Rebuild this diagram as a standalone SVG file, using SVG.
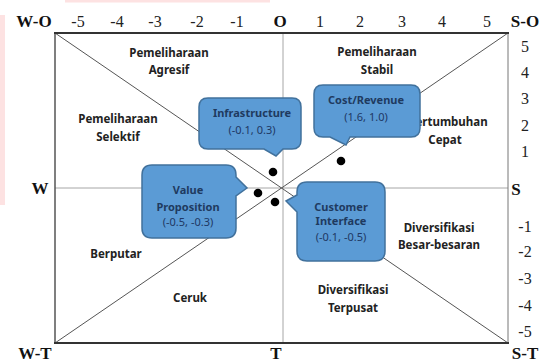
<svg xmlns="http://www.w3.org/2000/svg" width="547" height="363" viewBox="0 0 547 363">
<style>
.ax{font-family:"Liberation Serif",serif;font-size:17px;font-weight:bold;fill:#111;text-anchor:middle}
.num{font-family:"Liberation Serif",serif;font-size:16px;fill:#222;text-anchor:middle}
.q{font-family:"Noto Sans","Open Sans",sans-serif;font-size:11.5px;font-weight:bold;fill:#222;text-anchor:middle}
.box{fill:#5b9bd5;stroke:#41719c;stroke-width:1.5}
.bt{font-family:"Noto Sans","Open Sans",sans-serif;font-size:11px;font-weight:bold;fill:#1f3a5f;text-anchor:middle}
.bc{font-family:"Noto Sans","Open Sans",sans-serif;font-size:11px;fill:#203864;text-anchor:middle}
.diag{stroke:#555;stroke-width:1;fill:none}
.mid{stroke:#a6a6a6;stroke-width:1;fill:none}
.dot{fill:#000}
</style>
<rect width="547" height="363" fill="#fff"/>
<rect x="0" y="15" width="5" height="190" fill="#fde2e2"/>
<rect x="65" y="0" width="205" height="2.5" fill="#fde2e2"/>

<g id="grid">
<line class="mid" x1="283" y1="33" x2="283" y2="343"/>
<line class="mid" x1="55" y1="188" x2="508" y2="188"/>
<line class="diag" x1="55" y1="33" x2="508" y2="343"/>
<line class="diag" x1="55" y1="343" x2="508" y2="33"/>
<line x1="55" y1="33" x2="55" y2="343" stroke="#555" stroke-width="1.5"/>
<line x1="508" y1="33" x2="508" y2="343" stroke="#777" stroke-width="1"/>
<line x1="54" y1="33" x2="509" y2="33" stroke="#333" stroke-width="2"/>
<line x1="54" y1="343" x2="509" y2="343" stroke="#333" stroke-width="2"/>
</g>

<g id="axis-labels">
<text class="ax" x="34" y="27">W-O</text>
<text class="num" x="78" y="27">-5</text>
<text class="num" x="117" y="27">-4</text>
<text class="num" x="155" y="27">-3</text>
<text class="num" x="197" y="27">-2</text>
<text class="num" x="237" y="27">-1</text>
<text class="ax" x="280" y="27">O</text>
<text class="num" x="320" y="27">1</text>
<text class="num" x="360" y="27">2</text>
<text class="num" x="402" y="27">3</text>
<text class="num" x="442" y="27">4</text>
<text class="num" x="487" y="27">5</text>
<text class="ax" x="525" y="27">S-O</text>
<text class="num" x="525" y="52">5</text>
<text class="num" x="525" y="78">4</text>
<text class="num" x="525" y="104">3</text>
<text class="num" x="525" y="131">2</text>
<text class="num" x="525" y="157">1</text>
<text class="ax" x="40" y="194">W</text>
<text class="ax" x="516" y="195">S</text>
<text class="num" x="525" y="232">-1</text>
<text class="num" x="525" y="257">-2</text>
<text class="num" x="525" y="284">-3</text>
<text class="num" x="525" y="311">-4</text>
<text class="num" x="525" y="337">-5</text>
<text class="ax" x="35" y="359">W-T</text>
<text class="ax" x="276" y="359">T</text>
<text class="ax" x="525" y="359">S-T</text>
</g>

<g id="quadrants">
<text class="q" x="169" y="57">Pemeliharaan</text>
<text class="q" x="169" y="74">Agresif</text>
<text class="q" x="118" y="123">Pemeliharaan</text>
<text class="q" x="118" y="141">Selektif</text>
<text class="q" x="377" y="56">Pemeliharaan</text>
<text class="q" x="377" y="74">Stabil</text>
<text class="q" x="448" y="126">Pertumbuhan</text>
<text class="q" x="445" y="144">Cepat</text>
<text class="q" x="116" y="258">Berputar</text>
<text class="q" x="190" y="302">Ceruk</text>
<text class="q" x="439" y="232">Diversifikasi</text>
<text class="q" x="439" y="249">Besar-besaran</text>
<text class="q" x="353" y="294">Diversifikasi</text>
<text class="q" x="353" y="312">Terpusat</text>
</g>

<g id="dots">
<circle class="dot" cx="273" cy="172" r="4.3"/>
<circle class="dot" cx="258" cy="193" r="4.3"/>
<circle class="dot" cx="275" cy="202" r="4.3"/>
<circle class="dot" cx="341" cy="161" r="4.3"/>
</g>

<g id="infrastructure">
<path class="box" d="M208,98 H292 Q301,98 301,107 V140 Q301,149 292,149 H283 L276,156 L264,149 H208 Q199,149 199,140 V107 Q199,98 208,98 Z"/>
<text class="bt" x="252" y="117">Infrastructure</text>
<text class="bc" x="252" y="134">(-0.1, 0.3)</text>
</g>

<g id="cost-revenue">
<path class="box" d="M323,85 H411 Q420,85 420,94 V128 Q420,137 411,137 H350 L346,145 L330,137 H323 Q314,137 314,128 V94 Q314,85 323,85 Z"/>
<text class="bt" x="366" y="104">Cost/Revenue</text>
<text class="bc" x="366" y="121">(1.6, 1.0)</text>
</g>

<g id="value-proposition">
<path class="box" d="M152,165 H226 Q236,165 236,175 V177 L247,188 L236,196 V228 Q236,238 226,238 H152 Q142,238 142,228 V175 Q142,165 152,165 Z"/>
<text class="bt" x="188" y="194">Value</text>
<text class="bt" x="188" y="211">Proposition</text>
<text class="bc" x="188" y="226">(-0.5, -0.3)</text>
</g>

<g id="customer-interface">
<path class="box" d="M307,182 H375 Q385,182 385,192 V251 Q385,261 375,261 H307 Q297,261 297,251 V212 L286,201 L297,195 V192 Q297,182 307,182 Z"/>
<text class="bt" x="341" y="211">Customer</text>
<text class="bt" x="341" y="225">Interface</text>
<text class="bc" x="341" y="241">(-0.1, -0.5)</text>
</g>
</svg>
